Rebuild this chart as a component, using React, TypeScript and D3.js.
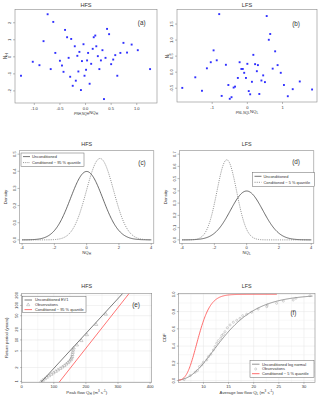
import React from "react";
import * as d3 from "d3";

// ---------- DATA ----------
// (a) HFS scatter: rho*NQ_H vs N_H
const hfsScatterX = [-0.74, -0.63, -0.82, -1.26, -1.03, -0.9, -0.68, -0.59, -0.5, -0.46, -0.43, -0.4, -0.36, -0.33, -0.3, -0.28, -0.25, -0.21, -0.19, -0.16, -0.14, -0.12, -0.09, -0.07, -0.04, -0.02, 0.01, 0.03, 0.05, 0.08, 0.11, 0.14, 0.16, 0.19, 0.21, 0.24, 0.27, 0.3, 0.33, 0.36, 0.39, 0.42, 0.46, 0.5, 0.54, 0.58, 0.62, 0.68, 0.74, 0.81, 0.9, 1.02, 1.26];
const hfsScatterY = [2.5, 2.05, 0.92, -1.11, -0.29, -0.49, -0.72, 0.23, -0.23, -0.51, -0.88, 1.58, 1.15, -0.06, -1.17, 1.05, -1.7, 0.62, -1.4, 0.06, -0.86, 0.29, -1.95, -0.25, 0.74, -1.11, -0.76, -0.21, 0.23, -1.58, -0.41, 0.47, 1.15, 1.25, 0.62, 0.04, -0.72, -0.21, 0.39, -2.48, -0.06, 1.64, 1.33, -0.43, -0.16, 0.1, -1.11, 0.23, 0.82, 0.25, 0.72, 0.39, -0.72];
// (b) LFS scatter
const lfsScatterX = [-0.8, 0.55, 0.65, 0.61, -0.96, 0.79, 0.17, -0.87, -1.04, -0.22, -0.61, 0.0, 0.22, 0.3, 0.86, -1.15, -0.17, -0.13, 0.72, 0.27, -0.09, 0.95, 0.45, -1.48, -0.27, -0.04, 0.13, 0.4, 0.5, 1.49, -0.54, 1.04, -1.85, -0.35, -0.39, 1.29, 1.84, -1.29, 0.04, 0.08, 0.34, -0.73, 1.15, -0.45, -0.5];
const lfsScatterY = [1.81, 1.75, 1.19, 1.01, 0.68, 0.65, 0.54, 0.37, 0.31, 0.31, 0.23, 0.26, 0.25, 0.22, 0.22, 0.12, 0.1, 0.1, 0.11, 0.03, -0.02, -0.02, -0.1, -0.16, -0.18, -0.18, -0.3, -0.26, -0.31, -0.29, -0.4, -0.4, -0.49, -0.45, -0.48, -0.53, -0.54, -0.58, -0.59, -0.69, -0.68, -0.74, -0.75, -0.78, -0.83];

// (c),(d) normal densities: [unconditioned, conditioned]
const hfsDensityMean = [0, 0.83];
const hfsDensitySd = [1, 0.84];
const lfsDensityMean = [0, -1.23];
const lfsDensitySd = [1, 0.61];
const densityLegendHFS = ["Unconditioned", "Conditioned ~ 95 % quantile"];
const densityLegendLFS = ["Unconditioned", "Conditioned ~ 5 % quantile"];

// (e) EV1 (Gumbel) lines: [unconditioned, conditioned]
const ev1Location = [87, 139.5];
const ev1Scale = [42, 36];
const obsPeakQ = [60, 66, 72, 78, 85, 92, 99, 106, 113, 120, 127, 133, 139, 144, 149, 153, 155, 157, 158, 159, 160, 162, 172, 186, 203, 232, 262];
const obsPeakT = [1.193, 1.238, 1.29, 1.35, 1.418, 1.495, 1.582, 1.68, 1.789, 1.911, 2.047, 2.199, 2.367, 2.555, 2.763, 2.993, 3.249, 3.532, 4.015, 4.577, 5.231, 5.99, 7.2, 9.53, 13.96, 27.6, 55.1];
const returnPeriodTicks = [1.2, 2, 5, 10, 20, 50, 100, 200];
const returnPeriodLabels = ["1", "2", "5", "10", "20", "50", "100", "200"];
const peakFlowTicks = [0, 100, 200, 300, 400];

// (f) log-normal CDFs: [unconditioned, conditioned]
const lnMedian = [14.0, 9.0];
const lnSigma = [0.4, 0.21];
const lnRangeEnd = [31.7, 24.6];
const obsLowQ = [6.17, 7.36, 8.35, 8.81, 9.21, 9.68, 10.0, 10.67, 11.0, 11.47, 11.98, 12.32, 12.65, 12.98, 13.45, 13.65, 13.97, 14.3, 14.76, 15.3, 15.95, 16.63, 17.28, 17.82, 18.6, 19.6, 20.9, 22.6, 22.7, 24.56, 25.9, 27.86, 28.4, 31.2];
const obsLowP = [0.012, 0.058, 0.097, 0.116, 0.162, 0.182, 0.213, 0.24, 0.278, 0.305, 0.355, 0.394, 0.433, 0.463, 0.49, 0.521, 0.537, 0.567, 0.613, 0.645, 0.676, 0.699, 0.722, 0.752, 0.769, 0.792, 0.83, 0.857, 0.876, 0.896, 0.922, 0.934, 0.954, 0.984];
const lowFlowTicks = [10, 15, 20, 25, 30];
const cdfTicks = [0, 0.2, 0.4, 0.6, 0.8, 1.0];

// ---------- HELPERS ----------
const FONT = "'Liberation Sans', Arial, Helvetica, sans-serif";
const TXT = "#333";
const BOX = "#8a8a8a";
const TICKC = "#777";
const TS = 4.1; // tick font size

function normPdf(x: number, m: number, s: number) {
  return Math.exp(-0.5 * ((x - m) / s) ** 2) / (s * Math.sqrt(2 * Math.PI));
}
function normCdf(z: number) {
  const t = 1 / (1 + 0.2316419 * Math.abs(z));
  const d = 0.3989423 * Math.exp((-z * z) / 2);
  const p = d * t * (0.3193815 + t * (-0.3565638 + t * (1.781478 + t * (-1.821256 + t * 1.330274))));
  return z > 0 ? 1 - p : p;
}
const gumbelVar = (T: number) => -Math.log(-Math.log(1 - 1 / T));

function VText({ x, y, children, size = TS, fill = TXT }: any) {
  return (
    <text transform={`translate(${x},${y}) rotate(-90)`} textAnchor="middle" fontSize={size} fill={fill}>
      {children}
    </text>
  );
}

function Sub({ children }: any) {
  return (
    <tspan fontSize="75%" dy="1">
      {children}
    </tspan>
  );
}

type Box = { x0: number; y0: number; x1: number; y1: number };

function RAxes({ box, x, y, xTicks, xLabels, yTicks, yLabels, xLabY, yLabX }: any) {
  return (
    <g>
      <rect x={box.x0} y={box.y0} width={box.x1 - box.x0} height={box.y1 - box.y0} fill="none" stroke={BOX} strokeWidth={0.6} />
      {xTicks.map((v: number, i: number) => (
        <g key={"x" + i}>
          <line x1={x(v)} x2={x(v)} y1={box.y1} y2={box.y1 + 2} stroke={TICKC} strokeWidth={0.5} />
          <text x={x(v)} y={xLabY} textAnchor="middle" fontSize={TS} fill={TXT}>
            {xLabels[i]}
          </text>
        </g>
      ))}
      {yTicks.map((v: number, i: number) => (
        <g key={"y" + i}>
          <line x1={box.x0 - 2} x2={box.x0} y1={y(v)} y2={y(v)} stroke={TICKC} strokeWidth={0.5} />
          <VText x={yLabX} y={y(v)}>
            {yLabels[i]}
          </VText>
        </g>
      ))}
    </g>
  );
}

function ScatterPanel({ box, xDom, yDom, xs, ys, xTicks, xLabels, yTicks, yLabels, title, tag, tagX, tagY, yName, xName }: any) {
  const x = d3.scaleLinear().domain(xDom).range([box.x0, box.x1]);
  const y = d3.scaleLinear().domain(yDom).range([box.y1, box.y0]);
  const cx = (box.x0 + box.x1) / 2;
  return (
    <g>
      <text x={cx} y={box.y0 - 2.2} textAnchor="middle" fontSize={5.6} fill={TXT}>
        {title}
      </text>
      <RAxes box={box} x={x} y={y} xTicks={xTicks} xLabels={xLabels} yTicks={yTicks} yLabels={yLabels} xLabY={box.y1 + 6.5} yLabX={box.x0 - 3.6} />
      {xs.map((v: number, i: number) => (
        <rect key={i} x={x(v) - 0.95} y={y(ys[i]) - 0.95} width={1.9} height={1.9} fill="#3030ff" />
      ))}
      <text x={tagX} y={tagY} textAnchor="middle" fontSize={6.3} fill={TXT}>
        {tag}
      </text>
      <VText x={box.x0 - 8.5} y={(box.y0 + box.y1) / 2} size={4.5}>
        {yName}
      </VText>
      <text x={cx} y={box.y1 + 11} textAnchor="middle" fontSize={4.3} fill={TXT}>
        {xName}
      </text>
    </g>
  );
}

function DensityPanel({ box, yDom, means, sds, yTicks, title, tag, tagX, tagY, legend, legendBox, xName }: any) {
  const x = d3.scaleLinear().domain([-4.16, 4.16]).range([box.x0, box.x1]);
  const y = d3.scaleLinear().domain(yDom).range([box.y1, box.y0]);
  const grid = d3.range(-4, 4.0001, 0.04);
  const line = d3
    .line<number>()
    .x((v) => x(v))
    .curve(d3.curveLinear);
  const cx = (box.x0 + box.x1) / 2;
  const xTicks = [-4, -2, 0, 2, 4];
  const lb = legendBox;
  return (
    <g>
      <text x={cx} y={box.y0 - 4.5} textAnchor="middle" fontSize={5.4} fill={TXT}>
        {title}
      </text>
      <RAxes
        box={box}
        x={x}
        y={y}
        xTicks={xTicks}
        xLabels={xTicks.map(String)}
        yTicks={yTicks}
        yLabels={yTicks.map((v: number) => v.toFixed(1))}
        xLabY={box.y1 + 6}
        yLabX={box.x0 - 3.6}
      />
      {means.map((m: number, i: number) => (
        <path
          key={i}
          d={line.y((v) => y(normPdf(v, m, sds[i])))(grid) || ""}
          fill="none"
          stroke={i === 0 ? "#3a3a3a" : "#6a6a6a"}
          strokeWidth={i === 0 ? 0.75 : 0.7}
          strokeDasharray={i === 0 ? undefined : "1.1,1.1"}
        />
      ))}
      <rect x={lb.x} y={lb.y} width={lb.w} height={lb.h} fill="#fff" stroke="#666" strokeWidth={0.5} />
      {legend.map((t: string, i: number) => {
        const yy = lb.y + 3.6 + i * 6;
        return (
          <g key={i}>
            <line x1={lb.x + 2} x2={lb.x + 9} y1={yy} y2={yy} stroke={i === 0 ? "#3a3a3a" : "#6a6a6a"} strokeWidth={0.7} strokeDasharray={i === 0 ? undefined : "1.1,1.1"} />
            <text x={lb.x + 11} y={yy + 1.4} fontSize={3.9} fill={TXT}>
              {t}
            </text>
          </g>
        );
      })}
      <text x={tagX} y={tagY} textAnchor="middle" fontSize={6.3} fill={TXT}>
        {tag}
      </text>
      <VText x={box.x0 - 13} y={(box.y0 + box.y1) / 2} size={4.3}>
        Density
      </VText>
      <text x={cx} y={box.y1 + 11} textAnchor="middle" fontSize={4.3} fill={TXT}>
        {xName}
      </text>
    </g>
  );
}

function PanelE() {
  const box: Box = { x0: 21.7, y0: 293.3, x1: 151.7, y1: 382.3 };
  const x = d3.scaleLinear().domain([0, 405]).range([box.x0, box.x1]);
  const yd: [number, number] = [-0.64, 5.43];
  const y = d3.scaleLinear().domain(yd).range([box.y1, box.y0]);
  const tri = d3.symbol().type(d3.symbolTriangle).size(4.5)();
  const lineColors = ["#444", "#ff6464"];
  const cx = (box.x0 + box.x1) / 2;
  return (
    <g>
      <defs>
        <clipPath id="clipE">
          <rect x={box.x0} y={box.y0} width={box.x1 - box.x0} height={box.y1 - box.y0} />
        </clipPath>
      </defs>
      <text x={cx} y={288} textAnchor="middle" fontSize={5.4} fill={TXT}>
        HFS
      </text>
      {d3.range(0, 401, 50).map((v) => (
        <line key={"gv" + v} x1={x(v)} x2={x(v)} y1={box.y0} y2={box.y1} stroke={v % 100 === 0 ? "#e4e4e4" : "#f0f0f0"} strokeWidth={0.5} />
      ))}
      {returnPeriodTicks.map((T, i) => (
        <line key={"gh" + i} x1={box.x0} x2={box.x1} y1={y(gumbelVar(T))} y2={y(gumbelVar(T))} stroke="#e4e4e4" strokeWidth={0.5} />
      ))}
      <g clipPath="url(#clipE)">
        {ev1Location.map((loc, i) => (
          <line key={i} x1={x(loc + ev1Scale[i] * yd[0])} y1={y(yd[0])} x2={x(loc + ev1Scale[i] * yd[1])} y2={y(yd[1])} stroke={lineColors[i]} strokeWidth={i === 0 ? 0.7 : 0.9} />
        ))}
        {obsPeakQ.map((q, i) => (
          <path key={"o" + i} d={tri || ""} transform={`translate(${x(q)},${y(gumbelVar(obsPeakT[i]))})`} fill="none" stroke="#777" strokeWidth={0.35} />
        ))}
      </g>
      <rect x={box.x0} y={box.y0} width={box.x1 - box.x0} height={box.y1 - box.y0} fill="none" stroke={BOX} strokeWidth={0.6} />
      {peakFlowTicks.map((v) => (
        <g key={"xt" + v}>
          <line x1={x(v)} x2={x(v)} y1={box.y1} y2={box.y1 + 1.5} stroke={TICKC} strokeWidth={0.5} />
          <text x={x(v)} y={box.y1 + 6} textAnchor="middle" fontSize={TS} fill={TXT}>
            {v}
          </text>
        </g>
      ))}
      {returnPeriodTicks.map((T, i) => (
        <g key={"yt" + i}>
          <line x1={box.x0 - 1.5} x2={box.x0} y1={y(gumbelVar(T))} y2={y(gumbelVar(T))} stroke={TICKC} strokeWidth={0.5} />
          <VText x={box.x0 - 3.5} y={y(gumbelVar(T))}>
            {returnPeriodLabels[i]}
          </VText>
        </g>
      ))}
      <rect x={22.7} y={296.7} width={63.3} height={16} fill="#fff" stroke="#666" strokeWidth={0.5} />
      <line x1={24.5} x2={32} y1={300} y2={300} stroke="#444" strokeWidth={0.7} />
      <text x={35} y={301.4} fontSize={3.9} fill={TXT}>
        Unconditioned EV1
      </text>
      <path d={tri || ""} transform="translate(28.2,304.8)" fill="none" stroke="#777" strokeWidth={0.35} />
      <text x={35} y={306.2} fontSize={3.9} fill={TXT}>
        Observations
      </text>
      <line x1={24.5} x2={32} y1={309.6} y2={309.6} stroke="#ff6464" strokeWidth={0.9} />
      <text x={35} y={311} fontSize={3.9} fill={TXT}>
        Conditioned ~ 95 % quantile
      </text>
      <text x={136} y={306.5} textAnchor="middle" fontSize={6.3} fill={TXT}>
        (e)
      </text>
      <VText x={7.5} y={337.8} size={4.3}>
        Return period (years)
      </VText>
      <text x={cx} y={393.5} textAnchor="middle" fontSize={4.3} fill={TXT}>
        Peak flow Q<Sub>H</Sub>
        <tspan dy="-1"> (m</tspan>
        <tspan fontSize="70%" dy="-1.3">3</tspan>
        <tspan dy="1.3"> s</tspan>
        <tspan fontSize="70%" dy="-1.3">-1</tspan>
        <tspan dy="1.3">)</tspan>
      </text>
    </g>
  );
}

function PanelF() {
  const box: Box = { x0: 178.3, y0: 293.3, x1: 315, y1: 382.3 };
  const x = d3.scaleLinear().domain([5, 32.2]).range([box.x0, box.x1]);
  const y = d3.scaleLinear().domain([-0.02, 1.012]).range([box.y1, box.y0]);
  const cx = (box.x0 + box.x1) / 2;
  const colors = ["#666", "#ff5c5c"];
  const line = d3.line<[number, number]>().x((d) => x(d[0])).y((d) => y(d[1]));
  return (
    <g>
      <text x={cx} y={288} textAnchor="middle" fontSize={5.4} fill={TXT}>
        LFS
      </text>
      {d3.range(7.5, 32.1, 2.5).map((v) => (
        <line key={"gv" + v} x1={x(v)} x2={x(v)} y1={box.y0} y2={box.y1} stroke={v % 5 === 0 ? "#e4e4e4" : "#f0f0f0"} strokeWidth={0.5} />
      ))}
      {d3.range(0, 1.01, 0.1).map((v, i) => (
        <line key={"gh" + i} x1={box.x0} x2={box.x1} y1={y(v)} y2={y(v)} stroke={i % 2 === 0 ? "#e4e4e4" : "#f0f0f0"} strokeWidth={0.5} />
      ))}
      {lnMedian.map((med, i) => {
        const pts: [number, number][] = d3.range(5, lnRangeEnd[i] + 0.001, 0.1).map((q) => [q, normCdf((Math.log(q) - Math.log(med)) / lnSigma[i])]);
        return <path key={i} d={line(pts) || ""} fill="none" stroke={colors[i]} strokeWidth={i === 0 ? 0.7 : 0.9} />;
      })}
      {obsLowQ.map((q, i) => (
        <circle key={"o" + i} cx={x(q)} cy={y(obsLowP[i])} r={1.05} fill="none" stroke="#888" strokeWidth={0.35} />
      ))}
      <rect x={box.x0} y={box.y0} width={box.x1 - box.x0} height={box.y1 - box.y0} fill="none" stroke={BOX} strokeWidth={0.6} />
      {lowFlowTicks.map((v) => (
        <g key={"xt" + v}>
          <line x1={x(v)} x2={x(v)} y1={box.y1} y2={box.y1 + 1.5} stroke={TICKC} strokeWidth={0.5} />
          <text x={x(v)} y={box.y1 + 6} textAnchor="middle" fontSize={TS} fill={TXT}>
            {v}
          </text>
        </g>
      ))}
      {cdfTicks.map((v, i) => (
        <g key={"yt" + i}>
          <line x1={box.x0 - 1.5} x2={box.x0} y1={y(v)} y2={y(v)} stroke={TICKC} strokeWidth={0.5} />
          <VText x={box.x0 - 3.5} y={y(v)}>
            {v.toFixed(1)}
          </VText>
        </g>
      ))}
      <rect x={250} y={360.7} width={64} height={16.6} fill="#fff" stroke="#666" strokeWidth={0.5} />
      <line x1={252} x2={259.5} y1={364.2} y2={364.2} stroke="#666" strokeWidth={0.7} />
      <text x={262} y={365.6} fontSize={3.9} fill={TXT}>
        Unconditioned log normal
      </text>
      <circle cx={255.7} cy={369} r={1.05} fill="none" stroke="#888" strokeWidth={0.35} />
      <text x={262} y={370.4} fontSize={3.9} fill={TXT}>
        Observations
      </text>
      <line x1={252} x2={259.5} y1={373.7} y2={373.7} stroke="#ff5c5c" strokeWidth={0.9} />
      <text x={262} y={375.1} fontSize={3.9} fill={TXT}>
        Conditioned ~ 5 % quantile
      </text>
      <text x={293.5} y={314.5} textAnchor="middle" fontSize={6.3} fill={TXT}>
        (f)
      </text>
      <VText x={166} y={337.8} size={4.3}>
        CDF
      </VText>
      <text x={cx} y={393.5} textAnchor="middle" fontSize={4.3} fill={TXT}>
        Average low flow Q<Sub>L</Sub>
        <tspan dy="-1"> (m</tspan>
        <tspan fontSize="70%" dy="-1.3">3</tspan>
        <tspan dy="1.3"> s</tspan>
        <tspan fontSize="70%" dy="-1.3">-1</tspan>
        <tspan dy="1.3">)</tspan>
      </text>
    </g>
  );
}

function RhoLabel({ sub }: { sub: string }) {
  return (
    <>
      ρ<Sub>{`N${sub},NQ${sub}`}</Sub>
      <tspan dy="-1">NQ</tspan>
      <Sub>{sub}</Sub>
    </>
  );
}

export default function App() {
  return (
    <svg width={320} height={398} style={{ position: "absolute", left: 0, top: 0, background: "#fff" }} fontFamily={FONT}>
      <rect x={0} y={0} width={320} height={398} fill="#fff" />
      <ScatterPanel
        box={{ x0: 15, y0: 9.3, x1: 157, y1: 103 }}
        xDom={[-1.377, 1.395]}
        yDom={[-2.71, 2.79]}
        xs={hfsScatterX}
        ys={hfsScatterY}
        xTicks={[-1, -0.5, 0, 0.5, 1]}
        xLabels={["-1.0", "-0.5", "0.0", "0.5", "1.0"]}
        yTicks={[-2, -1, 0, 1, 2]}
        yLabels={["-2", "-1", "0", "1", "2"]}
        title="HFS"
        tag="(a)"
        tagX={141.7}
        tagY={24.8}
        yName={<>N<Sub>H</Sub></>}
        xName={<RhoLabel sub="H" />}
      />
      <ScatterPanel
        box={{ x0: 177, y0: 9.3, x1: 317, y1: 102 }}
        xDom={[-2.0, 1.98]}
        yDom={[-0.93, 1.96]}
        xs={lfsScatterX}
        ys={lfsScatterY}
        xTicks={[-1, 0, 1]}
        xLabels={["-1", "0", "1"]}
        yTicks={[-0.5, 0, 0.5, 1, 1.5]}
        yLabels={["-0.5", "0.0", "0.5", "1.0", "1.5"]}
        title="LFS"
        tag="(b)"
        tagX={296}
        tagY={26}
        yName={<>N<Sub>L</Sub></>}
        xName={<RhoLabel sub="L" />}
      />
      <DensityPanel
        box={{ x0: 19.5, y0: 150.7, x1: 153.8, y1: 243.3 }}
        yDom={[-0.02, 0.52]}
        means={hfsDensityMean}
        sds={hfsDensitySd}
        yTicks={[0, 0.1, 0.2, 0.3, 0.4, 0.5]}
        title="HFS"
        tag="(c)"
        tagX={142}
        tagY={165}
        legend={densityLegendHFS}
        legendBox={{ x: 21, y: 153, w: 63, h: 13.3 }}
        xName={<>NQ<Sub>H</Sub></>}
      />
      <DensityPanel
        box={{ x0: 179.5, y0: 150.7, x1: 313.8, y1: 243.3 }}
        yDom={[-0.028, 0.728]}
        means={lfsDensityMean}
        sds={lfsDensitySd}
        yTicks={[0, 0.1, 0.2, 0.3, 0.4, 0.5, 0.6, 0.7]}
        title="LFS"
        tag="(d)"
        tagX={296}
        tagY={164}
        legend={densityLegendLFS}
        legendBox={{ x: 252.5, y: 172.7, w: 62, h: 14 }}
        xName={<>NQ<Sub>L</Sub></>}
      />
      <PanelE />
      <PanelF />
    </svg>
  );
}
